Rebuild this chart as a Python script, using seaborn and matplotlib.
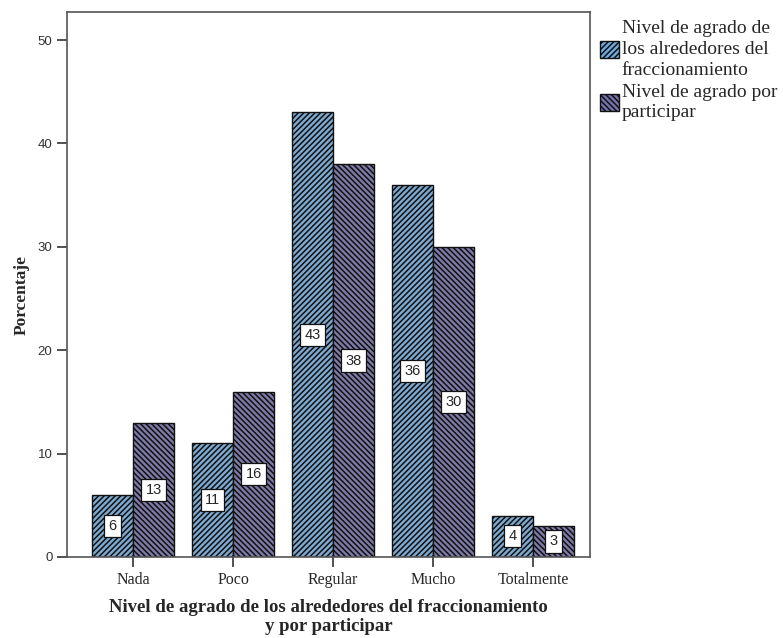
import matplotlib
matplotlib.use("Agg")
import matplotlib.pyplot as plt
import seaborn as sns
import pandas as pd
from matplotlib.patches import Patch

categories = ["Nada", "Poco", "Regular", "Mucho", "Totalmente"]
alrededores = [6, 11, 43, 36, 4]
participar = [13, 16, 38, 30, 3]
series_names = [
    "Nivel de agrado de\nlos alrededores del\nfraccionamiento",
    "Nivel de agrado por\nparticipar",
]
y_ticks = [0, 10, 20, 30, 40, 50]

df = pd.DataFrame({
    "categoria": categories * 2,
    "porcentaje": alrededores + participar,
    "serie": [series_names[0]] * len(categories) + [series_names[1]] * len(categories),
})

sns.set_style("ticks")
plt.rcParams["hatch.linewidth"] = 1.1
plt.rcParams["hatch.color"] = "#111111"

fig = plt.figure(figsize=(7.83, 6.38), dpi=100)
ax = fig.add_axes([0.0856, 0.127, 0.668, 0.854])

colors = ["#70aade", "#7772b0"]
hatches = ["//////", "\\\\\\\\\\\\"]

sns.barplot(data=df, x="categoria", y="porcentaje", hue="serie",
            order=categories, hue_order=series_names, palette=colors,
            width=0.82, edgecolor="#111111", linewidth=1.0, ax=ax,
            legend=False)

for cont, h, vals in zip(ax.containers, hatches, [alrededores, participar]):
    for bar in cont:
        bar.set_hatch(h)
        bar.set_edgecolor("#111111")
    ax.bar_label(cont, labels=[str(v) for v in vals], label_type="center",
                 fontsize=10.5, family="Liberation Sans",
                 bbox=dict(boxstyle="square,pad=0.28", facecolor="white",
                           edgecolor="#111111", linewidth=0.9))

ax.set_xlim(-0.66, 4.57)
ax.set_ylim(0, 52.7)
ax.set_yticks(y_ticks)
ax.set_yticklabels([str(t) for t in y_ticks], family="Liberation Sans",
                   fontsize=9.5, color="#333333")
ax.set_xticks(range(len(categories)))
ax.set_xticklabels(categories, family="Liberation Serif", fontsize=11.5)
ax.tick_params(axis="both", direction="out", length=7, width=1.2, color="#333333")

for sp in ax.spines.values():
    sp.set_visible(True)
    sp.set_color("#555555")
    sp.set_linewidth(1.2)

ax.set_xlabel("Nivel de agrado de los alrededores del fraccionamiento\ny por participar",
              family="Liberation Serif", fontweight="bold", fontsize=13.5,
              linespacing=1.15)
ax.xaxis.set_label_coords(0.5, -0.078)
ax.set_ylabel("Porcentaje", family="Liberation Serif", fontweight="bold",
              fontsize=12.5)
ax.yaxis.set_label_coords(-0.072, 0.48)

handles = [Patch(facecolor=c, edgecolor="#111111", hatch=h, linewidth=1.0)
           for c, h in zip(colors, hatches)]
leg = ax.legend(handles, series_names, loc="upper left",
                bbox_to_anchor=(1.005, 1.0), frameon=False,
                prop={"family": "Liberation Serif", "size": 14},
                handlelength=0.95, handleheight=0.95, handletextpad=0.15,
                labelspacing=0.25, borderaxespad=0.0)
for t in leg.get_texts():
    t.set_linespacing(1.3)

fig.savefig("out.png", dpi=100)
